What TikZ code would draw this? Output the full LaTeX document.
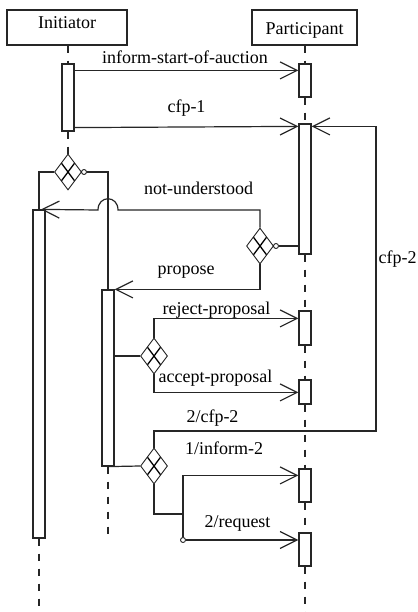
\documentclass[tikz,border=0pt]{standalone}
\usepackage{fontspec}
\setmainfont{Liberation Serif}
\usetikzlibrary{arrows.meta,shapes.geometric,calc}
\begin{document}
\begin{tikzpicture}[x=1pt,y=-1pt,line width=1.2pt,color=black!85,
  txt/.style={font=\fontsize{18}{20}\selectfont,text=black},
  actor/.style={draw,rectangle,inner sep=0pt,minimum height=35pt,txt},
  bar/.style={draw,fill=white,rectangle,minimum width=12pt,inner sep=0pt},
  dec/.style={draw,diamond,fill=white,minimum width=27pt,minimum height=36pt,
    inner sep=0pt,line width=0.9pt,
    path picture={\draw[line width=1.3pt,black]
      ($(path picture bounding box.north)!.5!(path picture bounding box.west)$) --
      ($(path picture bounding box.south)!.5!(path picture bounding box.east)$)
      ($(path picture bounding box.north)!.5!(path picture bounding box.east)$) --
      ($(path picture bounding box.south)!.5!(path picture bounding box.west)$);}},
  port/.style={circle,draw,fill=white,minimum size=5pt,inner sep=0pt,line width=0.9pt},
  msg/.style={-{Straight Barb[length=17pt,width=17pt]}},
  life/.style={dash pattern=on 7pt off 8pt},
  lbl/.style={txt,inner sep=0pt,anchor=base}]
\fill[white] (0,0) rectangle (417,612);
\useasboundingbox (0,0) rectangle (417,612);

% roles
\node[actor,minimum width=120pt,text height=9pt,text depth=6pt] (ini) at (67,27.5) {Initiator};
\node[actor,minimum width=105pt,text height=15pt,text depth=0pt] (par) at (304.5,27.5) {Participant};

% activation bars
\node[bar,minimum height=67pt]  (I1) at (68,97.5) {};
\node[bar,minimum height=328pt] (I3) at (39,374) {};
\node[bar,minimum height=176pt] (I4) at (108,378) {};
\node[bar,minimum height=33pt]  (P1) at (305,80.5) {};
\node[bar,minimum height=130pt] (P2) at (305,189) {};
\node[bar,minimum height=34pt]  (P3) at (305,328) {};
\node[bar,minimum height=24pt]  (P4) at (305,392) {};
\node[bar,minimum height=33pt]  (P5) at (305,485.5) {};
\node[bar,minimum height=33pt]  (P6) at (305,549.5) {};

% decision points
\node[dec] (D1) at (68,172) {};
\node[dec] (D2) at (260,246) {};
\node[dec] (D3) at (154,356) {};
\node[dec] (D4) at (154,466) {};
\node[port] (o1) at (84,172) {};
\node[port] (o2) at (276,246) {};
\node[port] (o3) at (183,540) {};

\coordinate (nu) at (108,210);
\coordinate (c2) at (376,431);
\coordinate (j) at (183,514);
\coordinate (endI) at (39,612);
\coordinate (endI4) at (108,538);
\coordinate (endP) at (305,612);

% lifelines
\draw[life] (ini.south -| I1.north) -- (I1.north);
\draw[life] (I1.south) -- (D1.north);
\draw[life] (I3.south) -- (endI);
\draw[life] (I4.south) -- (endI4);
\draw[life] (par.south -| P1.north) -- (P1.north);
\draw[life] (P1.south) -- (P2.north);
\draw[life] (P2.south) -- (P3.north);
\draw[life] (P3.south) -- (P4.north);
\draw[life] (P4.south) -- (P5.north);
\draw[life] (P5.south) -- (P6.north);
\draw[life] (P6.south) -- (endP);

% messages
\draw[msg] ([yshift=-7pt]I1.north east) -- ([yshift=-7pt]P1.north west);
\draw[msg] ([yshift=4pt]I1.south east) -- ([yshift=-3pt]P2.north west);
\draw (D1.west) -| (I3.north);
\draw (D1.east) -- (o1.west);
\draw (o1.east) -| (I4.north);
\draw (P2.west |- o2) -- (o2.east);
\draw (o2.west) -- (D2.east);
\draw[msg] (D2.north) |- ([xshift=10pt]nu)
  .. controls ([shift={(10pt,15pt)}]nu) and ([shift={(-10pt,15pt)}]nu) ..
  ([xshift=-10pt]nu) -- ([xshift=2pt]I3.north);
\draw[msg] (D2.south) |- (I4.north east);
\draw (I4.east |- D3) -- (D3.west);
\draw[msg] (D3.north) |- ([yshift=-8pt]P3.north west);
\draw[msg] (D3.south) |- ([yshift=-13pt]P4.north west);
\draw (I4.south) -- (D4.west);
\draw[msg] (D4.north) |- (c2) |- ([yshift=-3pt]P2.north east);
\draw (D4.south) |- (j);
\draw[msg] (j) |- ([yshift=-7pt]P5.north west);
\draw (j) -- (o3.north);
\draw[msg] (o3.east) -- (P6.west |- o3);

% message labels
\node[lbl] (l1) at (185,63.5) {inform-start-of-auction};
\node[lbl] (l2) at (186.5,113) {cfp-1};
\node[lbl] (l3) at (198.5,195) {not-understood};
\node[lbl] (l4) at (186,274) {propose};
\node[lbl] (l5) at (216.5,314) {reject-proposal};
\node[lbl] (l6) at (215.5,382) {accept-proposal};
\node[lbl] (l7) at (212.5,422) {2/cfp-2};
\node[lbl] (l8) at (224,454) {1/inform-2};
\node[lbl] (l9) at (237.5,527) {2/request};
\node[lbl,anchor=base west] (l10) at (378,263) {cfp-2};
\end{tikzpicture}
\end{document}
